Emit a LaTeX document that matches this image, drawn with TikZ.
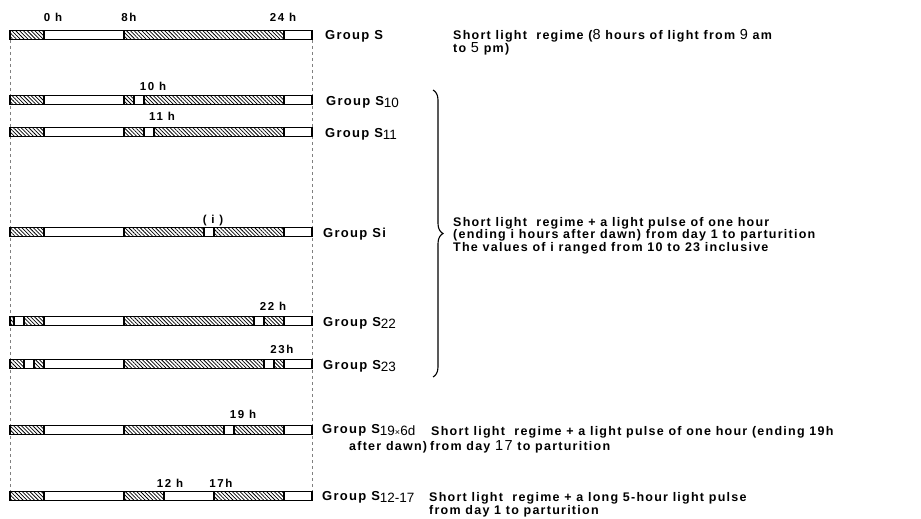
\documentclass[tikz,border=0pt]{standalone}
\usepackage{fontspec}
\setmainfont{Liberation Sans}[LetterSpace=10]
\usetikzlibrary{patterns.meta,decorations.pathreplacing}

% digits set larger and lighter, as in the original lettering
\newcommand{\dg}[1]{{\mdseries\fontsize{14.5}{12}\selectfont #1}}
\newcommand{\sbs}[1]{\raisebox{-2pt}{\mdseries\fontsize{13.5}{12}\selectfont\addfontfeature{LetterSpace=0}#1}}

% one 24h bar: #1 = y of its middle, #2 = light periods (from/to, in hours)
\newcommand{\daybar}[2]{%
  \fill[pattern={Lines[angle=-45,distance=2.7pt,line width=0.75pt]}] (10,#1-4.5) rectangle (312,#1+4.5);
  \foreach \ta/\tb in {#2}
    \draw[barline,fill=white] ({44+10*\ta},#1-4.5) rectangle ({44+10*\tb},#1+4.5);
  \draw[barline] (10,#1-4.5) rectangle (312,#1+4.5);}

\begin{document}
\begin{tikzpicture}[x=1pt,y=-1pt,
    font=\bfseries\fontsize{12.5}{12.5}\selectfont,
    barline/.style={line width=1.3pt},
    hour/.style={anchor=base,inner sep=0pt,
                 font=\bfseries\fontsize{11.5}{11}\selectfont\addfontfeature{LetterSpace=14}},
    grp/.style={anchor=base west,inner sep=0pt,font=\bfseries\fontsize{13}{13}\selectfont},
    descr/.style={anchor=base west,inner sep=0pt,align=left}]
  \useasboundingbox (0,0) rectangle (921,519);

  % guide lines at both ends of the bars
  \draw[gray,line width=0.5pt,dash pattern=on 3pt off 3pt] (10,40) -- (10,491);
  \draw[gray,line width=0.5pt,dash pattern=on 3pt off 3pt] (312,40) -- (312,491);

  \daybar{35}{0/8,24/26.8}
  \daybar{100}{0/8,9/10,24/26.8}
  \daybar{132}{0/8,10/11,24/26.8}
  \daybar{232}{0/8,16/17,24/26.8}
  \daybar{321}{-3/-2,0/8,21/22,24/26.8}
  \daybar{364}{-2/-1,0/8,22/23,24/26.8}
  \daybar{430}{0/8,18/19,24/26.8}
  \daybar{496}{0/8,12/17,24/26.8}

  % hour marks
  \node[hour] (h0)  at (53,22)  {0 h};
  \node[hour] (h8)  at (129,22) {8h};
  \node[hour] (h24) at (283,22) {24 h};
  \node[hour] (h10) at (153,90) {10 h};
  \node[hour] (h11) at (162,121) {11 h};
  \node[hour] (hi)  at (213,223) {( i )};
  \node[hour] (h22) at (273,310) {22 h};
  \node[hour] (h23) at (282,353) {23h};
  \node[hour] (h19) at (243,418) {19 h};
  \node[hour] (h12) at (170,487) {12 h};
  \node[hour] (h17) at (221,487) {17h};

  % group names
  \node[grp] (gS)    at (325,40)  {Group S};
  \node[grp] (gS10)  at (326,105) {Group S\sbs{10}};
  \node[grp] (gS11)  at (325,137) {Group S\sbs{11}};
  \node[grp] (gSi)   at (323,237) {Group Si};
  \node[grp] (gS22)  at (323,326) {Group S\sbs{22}};
  \node[grp] (gS23)  at (323,369) {Group S\sbs{23}};
  \node[grp] (gS19)  at (322,433) {Group S\sbs{19{\small ×}6d}};
  \node[grp] (gS1217) at (322,500) {Group S\sbs{12-17}};

  % treatments (anchored on the baseline of their last line)
  \node[descr] (dS) at (453,53)
    {Short light\ \ regime (\dg{8} hours of light from \dg{9} am\\to \dg{5} pm)};
  \draw[line width=1.1pt,decorate,decoration={brace,amplitude=10pt}] (433,90) -- (433,377);
  \node[descr] (dSi) at (453,251)
    {Short light\ \ regime + a light pulse of one hour\\
     (ending i hours after dawn) from day 1 to parturition\\
     The values of i ranged from 10 to 23 inclusive};
  \node[descr] (dS19) at (349,450)
    {\hspace*{82pt}Short light\ \ regime + a light pulse of one hour (ending 19h\\[1pt]
     after dawn)\hspace{3pt}from day \dg{17} to parturition};
  \node[descr] (dS1217) at (429,514)
    {Short light\ \ regime + a long 5-hour light pulse\\from day 1 to parturition};
\end{tikzpicture}
\end{document}
